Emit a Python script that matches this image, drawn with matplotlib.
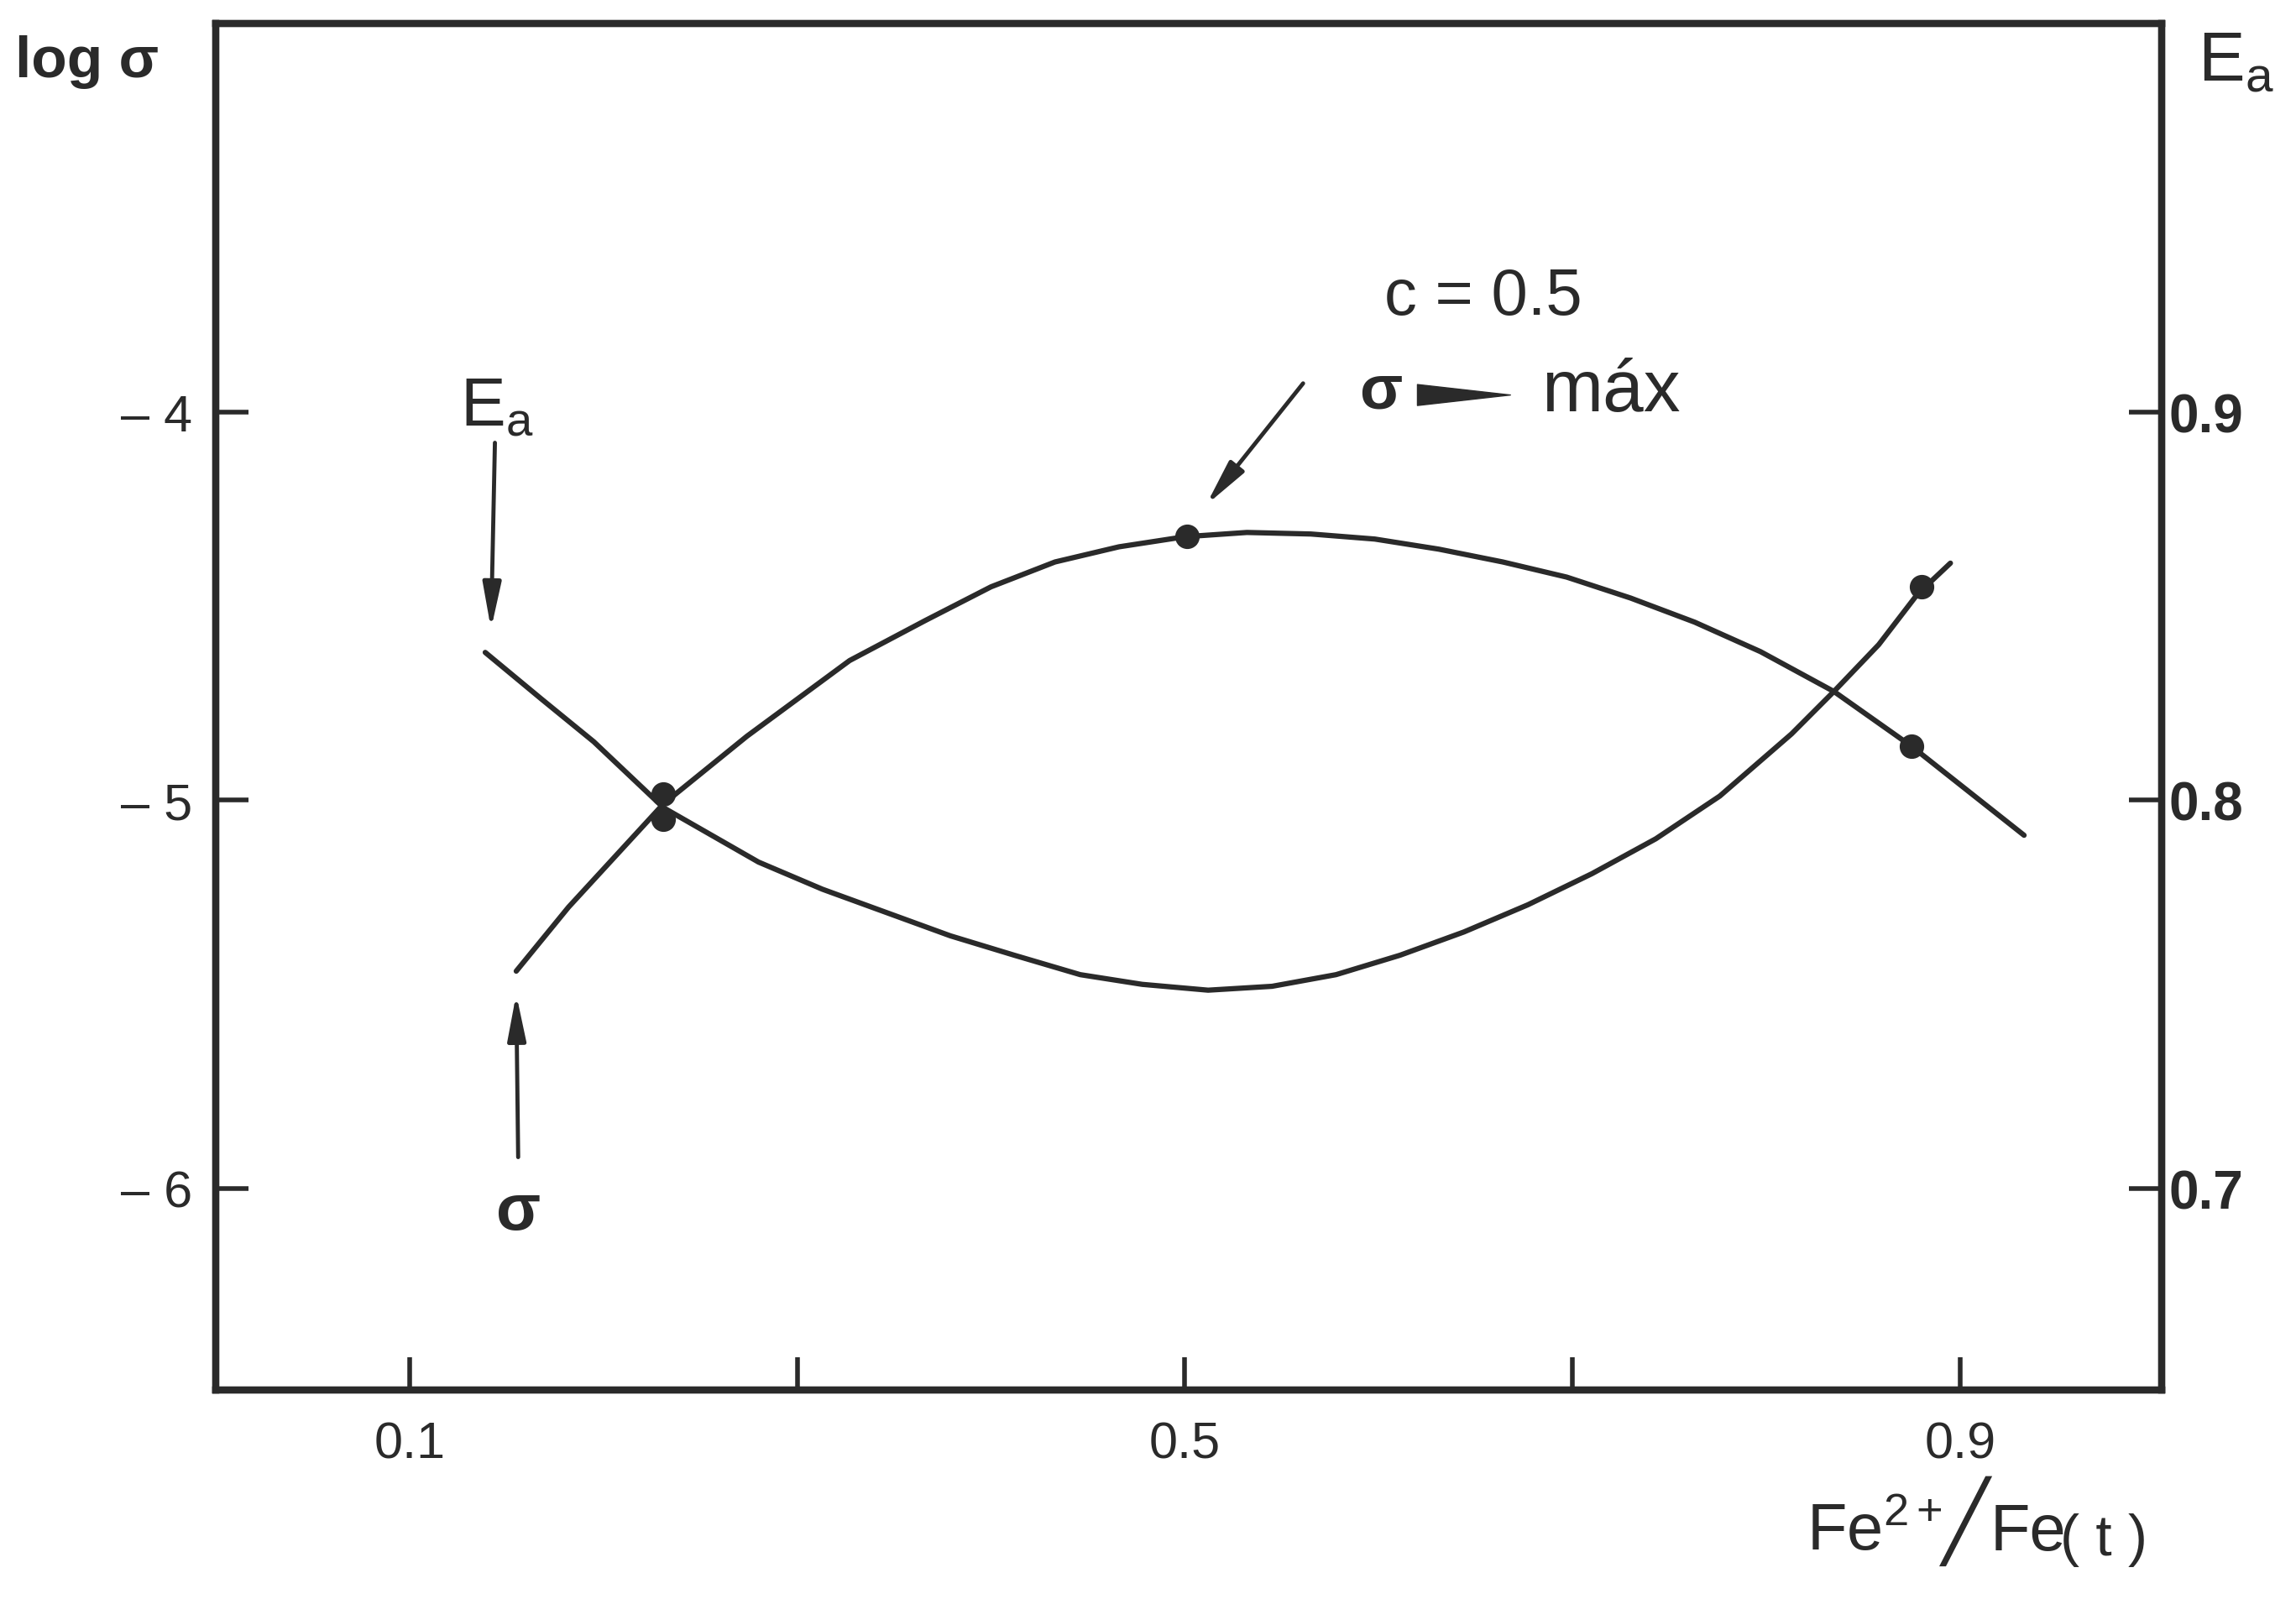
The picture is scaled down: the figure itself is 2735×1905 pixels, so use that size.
import matplotlib
matplotlib.use("Agg")
import matplotlib.pyplot as plt

plt.rcParams['font.family'] = ['Liberation Sans', 'DejaVu Sans']
plt.rcParams['mathtext.fontset'] = 'custom'
plt.rcParams['mathtext.rm'] = 'Liberation Sans'
plt.rcParams['mathtext.it'] = 'Liberation Sans'

INK = '#2a2a2a'

# log sigma curve (left axis)
sigma_x = [0.155, 0.182, 0.203, 0.231, 0.274, 0.327, 0.366, 0.400, 0.433, 0.466,
           0.500, 0.532, 0.565, 0.598, 0.631, 0.664, 0.697, 0.730, 0.763, 0.797,
           0.835, 0.875, 0.933]
sigma_y = [-5.441, -5.276, -5.162, -5.010, -4.836, -4.641, -4.538, -4.451, -4.387, -4.348,
           -4.322, -4.311, -4.315, -4.328, -4.354, -4.387, -4.426, -4.480, -4.542, -4.618,
           -4.721, -4.862, -5.091]
sigma_pts_x = [0.231, 0.501, 0.875]
sigma_pts_y = [-4.985, -4.320, -4.862]

# activation energy curve (right axis)
ea_x = [0.139, 0.168, 0.195, 0.231, 0.280, 0.313, 0.346, 0.379, 0.412, 0.446,
        0.478, 0.512, 0.545, 0.578, 0.611, 0.644, 0.677, 0.710, 0.743, 0.776,
        0.813, 0.835, 0.858, 0.878, 0.895]
ea_y = [0.838, 0.826, 0.815, 0.798, 0.784, 0.777, 0.771, 0.765, 0.760, 0.755,
        0.7525, 0.751, 0.752, 0.755, 0.760, 0.766, 0.773, 0.781, 0.790, 0.801,
        0.817, 0.828, 0.840, 0.853, 0.861]
ea_pts_x = [0.231, 0.880]
ea_pts_y = [0.795, 0.855]

x_ticks = [0.1, 0.3, 0.5, 0.7, 0.9]
x_labels = ['0.1', '', '0.5', '', '0.9']
left_ticks = [-6, -5, -4]
left_labels = ['\u2013 6', '\u2013 5', '\u2013 4']
right_ticks = [0.7, 0.8, 0.9]
right_labels = ['0.7', '0.8', '0.9']

fig = plt.figure(figsize=(27.35, 19.06), dpi=100)
ax = fig.add_axes([0.094, 0.1306, 0.8475, 0.8542])
ax2 = ax.twinx()

ax.set_xlim(0.0, 1.004)
ax.set_ylim(-6.52, -3.0)
ax2.set_ylim(0.648, 1.0)

for a in (ax, ax2):
    for s in a.spines.values():
        s.set_linewidth(6)
        s.set_color(INK)

ax.set_xticks(x_ticks)
ax.set_xticklabels(x_labels)
ax.set_yticks(left_ticks)
ax.set_yticklabels(left_labels)
ax.tick_params(axis='x', direction='in', length=28, width=4, pad=26,
               labelsize=44, colors=INK, top=False)
ax.tick_params(axis='y', direction='in', length=28, width=4, pad=20,
               labelsize=44, colors=INK, right=False)
ax2.set_yticks(right_ticks)
ax2.set_yticklabels(right_labels, fontweight='bold')
ax2.tick_params(axis='y', direction='in', length=28, width=4, pad=6,
                labelsize=46, colors=INK)

# curves
ax.plot(sigma_x, sigma_y, color=INK, lw=4.5, solid_capstyle='round',
        solid_joinstyle='round', zorder=3)
ax.plot(sigma_pts_x, sigma_pts_y, 'o', color=INK, ms=20, zorder=4)
ax2.plot(ea_x, ea_y, color=INK, lw=4.5, solid_capstyle='round',
         solid_joinstyle='round', zorder=3)
ax2.plot(ea_pts_x, ea_pts_y, 'o', color=INK, ms=20, zorder=4)

arrow = dict(arrowstyle='-|>,head_length=1.1,head_width=0.22', color=INK,
             lw=3.5, mutation_scale=30, shrinkA=0, shrinkB=0)

# E_a label and arrow
ax.text(0.145, -3.99, r'$\mathregular{E_a}$', fontsize=58, color=INK,
        ha='center', va='center')
ax.annotate('', xy=(0.142, -4.56), xytext=(0.144, -4.08), arrowprops=arrow)

# sigma label and arrow
ax.text(0.156, -6.06, '\u03c3', fontsize=56, fontweight='bold', color=INK,
        ha='center', va='center')
ax.annotate('', xy=(0.155, -5.50), xytext=(0.156, -5.92), arrowprops=arrow)

# maximum annotation
ax.text(0.603, -3.704, 'c = 0.5', fontsize=56, color=INK, ha='left', va='center')
ax.text(0.590, -3.948, '\u03c3', fontsize=54, fontweight='bold', color=INK,
        ha='left', va='center')
ax.annotate('', xy=(0.668, -3.957), xytext=(0.620, -3.957),
            arrowprops=dict(arrowstyle='wedge,tail_width=0.6,shrink_factor=0.5',
                            color=INK, mutation_scale=30, shrinkA=0, shrinkB=0))
ax.text(0.684, -3.948, 'máx', fontsize=63, color=INK, ha='left', va='center')
ax.annotate('', xy=(0.511, -4.24), xytext=(0.561, -3.927), arrowprops=arrow)

# axis titles
fig.text(0.038, 0.961, 'log \u03c3', fontsize=50, fontweight='bold', color=INK,
         ha='center', va='center')
fig.text(0.974, 0.961, r'$\mathregular{E_a}$', fontsize=60, color=INK,
         ha='center', va='center')
# x axis title: Fe2+ / Fe(t)
fig.text(0.846, 0.0311, r'$\mathregular{Fe^{2+}}$', fontsize=56, color=INK,
         ha='right', va='baseline')
fig.text(0.856, 0.049, '\u2571', fontsize=66, color=INK, ha='center', va='center',
         family='DejaVu Sans')
fig.text(0.8667, 0.0311, 'Fe', fontsize=56, color=INK, ha='left', va='baseline')
fig.text(0.8973, 0.0375, '( t )', fontsize=50, color=INK, ha='left', va='center')

fig.savefig('out.png', dpi=100, facecolor='white')
